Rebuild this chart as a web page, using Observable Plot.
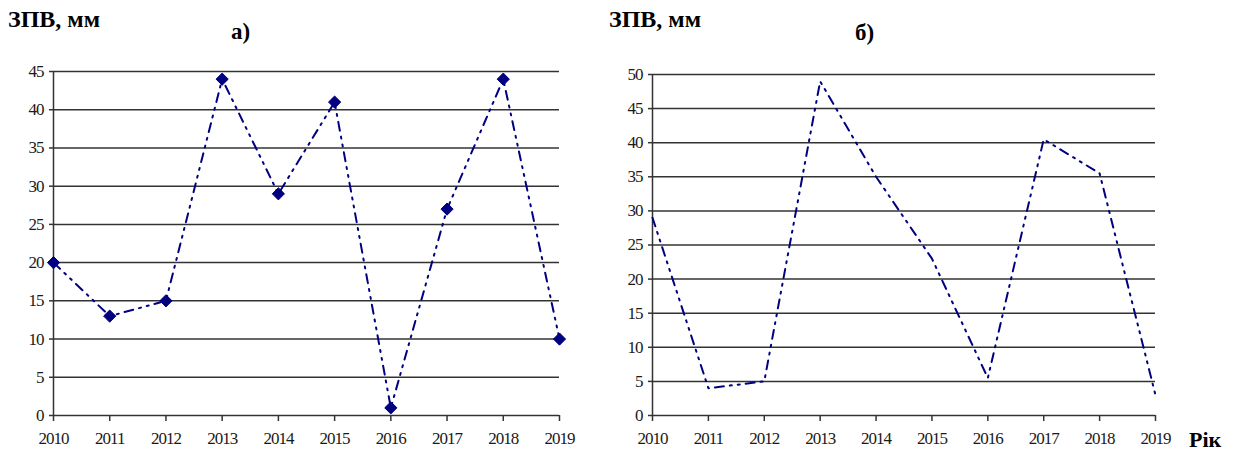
<!DOCTYPE html>
<html>
<head>
<meta charset="utf-8">
<script src="https://cdn.jsdelivr.net/npm/d3@7"></script>
<script src="https://cdn.jsdelivr.net/npm/@observablehq/plot@0.6"></script>
<style>
  html, body { margin: 0; padding: 0; background: #fff; }
  #wrap { position: relative; width: 1236px; height: 457px; overflow: hidden; font-family: "Liberation Serif", "Times New Roman", serif; }
  .lbl { position: absolute; font-weight: bold; color: #000; white-space: nowrap; line-height: 1; }
  .plot { position: absolute; top: 0; }
</style>
</head>
<body>
<div id="wrap">
  <div class="lbl" style="left:8px; top:7px; font-size:24px;">ЗПВ, мм</div>
  <div class="lbl" style="left:231px; top:20px; font-size:23px;">а)</div>
  <div class="lbl" style="left:609px; top:7px; font-size:24px;">ЗПВ, мм</div>
  <div class="lbl" style="left:855px; top:21px; font-size:23px;">б)</div>
  <div class="lbl" style="left:1189px; top:429px; font-size:22px;">Рік</div>
  <div id="pa" class="plot" style="left:0px;"></div>
  <div id="pb" class="plot" style="left:600px;"></div>
</div>
<script>
const years = [2010, 2011, 2012, 2013, 2014, 2015, 2016, 2017, 2018, 2019];
const valuesA = [20, 13, 15, 44, 29, 41, 1, 27, 44, 10];
const valuesB = [29, 4, 5, 49, 35, 23, 5.5, 40.5, 35.5, 3];
const yTicksA = [0, 5, 10, 15, 20, 25, 30, 35, 40, 45];
const yTicksB = [0, 5, 10, 15, 20, 25, 30, 35, 40, 45, 50];

const lineColor = "#000080";
const gridColor = "#333";
const dash = "9,6,2,6,2,6";

function makeChart(values, yTicks, yMax, opts) {
  const data = years.map((y, i) => ({year: y, value: values[i]}));
  const marks = [
    Plot.ruleY(yTicks, {stroke: gridColor, strokeWidth: 1.5}),
    Plot.ruleX([years[0]], {y1: 0, y2: yMax, stroke: gridColor, strokeWidth: 1.5}),
    Plot.axisX({ticks: years, tickFormat: d => String(d), tickSize: 6, tickPadding: 10, stroke: gridColor, strokeWidth: 1.5, fill: "#1a1a1a", fontSize: 17, label: null}),
    Plot.axisY({ticks: yTicks, tickFormat: d => String(d), tickSize: 4, tickPadding: 6, stroke: gridColor, strokeWidth: 1.5, fill: "#1a1a1a", fontSize: 17, label: null}),
    Plot.line(data, {x: "year", y: "value", stroke: lineColor, strokeWidth: 2, strokeDasharray: dash})
  ];
  if (opts.markers) {
    marks.push(Plot.dot(data, {x: "year", y: "value", symbol: "diamond2", r: 5.5, fill: lineColor, stroke: lineColor, strokeWidth: 1}));
  }
  return Plot.plot({
    width: opts.width,
    height: 457,
    marginLeft: opts.marginLeft,
    marginRight: opts.marginRight,
    marginTop: opts.marginTop,
    marginBottom: 42,
    x: {domain: [2010, 2019]},
    y: {domain: [0, yMax]},
    style: {fontFamily: "'Liberation Serif', 'Times New Roman', serif", fontSize: "17px", letterSpacing: "-1px", background: "transparent", overflow: "visible"},
    marks
  });
}

document.getElementById("pa").append(makeChart(valuesA, yTicksA, 45, {width: 600, marginLeft: 53, marginRight: 41, marginTop: 71, markers: true}));
document.getElementById("pb").append(makeChart(valuesB, yTicksB, 50, {width: 636, marginLeft: 52, marginRight: 81, marginTop: 74, markers: false}));
</script>
</body>
</html>
